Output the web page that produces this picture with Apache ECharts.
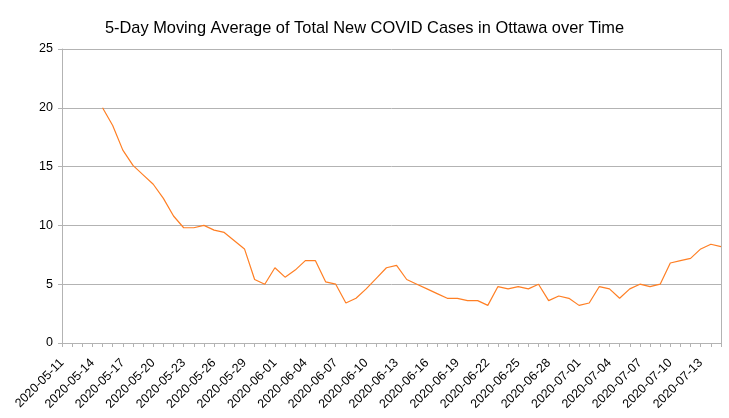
<!DOCTYPE html>
<html>
<head>
<meta charset="utf-8">
<script src="https://cdn.jsdelivr.net/npm/echarts@6/dist/echarts.min.js"></script>
<style>
html,body{margin:0;padding:0;background:#fff;}
#chart{width:729px;height:418px;}
</style>
</head>
<body>
<div id="chart"></div>
<script>
// Categories: 2020-05-11 .. 2020-07-15
const dates = [
 "2020-05-11","2020-05-12","2020-05-13","2020-05-14","2020-05-15","2020-05-16","2020-05-17","2020-05-18","2020-05-19","2020-05-20",
 "2020-05-21","2020-05-22","2020-05-23","2020-05-24","2020-05-25","2020-05-26","2020-05-27","2020-05-28","2020-05-29","2020-05-30",
 "2020-05-31","2020-06-01","2020-06-02","2020-06-03","2020-06-04","2020-06-05","2020-06-06","2020-06-07","2020-06-08","2020-06-09",
 "2020-06-10","2020-06-11","2020-06-12","2020-06-13","2020-06-14","2020-06-15","2020-06-16","2020-06-17","2020-06-18","2020-06-19",
 "2020-06-20","2020-06-21","2020-06-22","2020-06-23","2020-06-24","2020-06-25","2020-06-26","2020-06-27","2020-06-28","2020-06-29",
 "2020-06-30","2020-07-01","2020-07-02","2020-07-03","2020-07-04","2020-07-05","2020-07-06","2020-07-07","2020-07-08","2020-07-09",
 "2020-07-10","2020-07-11","2020-07-12","2020-07-13","2020-07-14","2020-07-15"
];
// 5-day moving average values (first 4 days have no value)
const movingAvg = [
 null, null, null, null, 20.0, 18.5, 16.4, 15.1, 14.3, 13.5,
 12.3, 10.8, 9.8, 9.8, 10.0, 9.6, 9.4, 8.7, 8.0, 5.4,
 5.0, 6.4, 5.6, 6.2, 7.0, 7.0, 5.2, 5.0, 3.4, 3.8,
 4.6, 5.5, 6.4, 6.6, 5.4, 5.0, 4.6, 4.2, 3.8, 3.8,
 3.6, 3.6, 3.2, 4.8, 4.6, 4.8, 4.6, 5.0, 3.6, 4.0,
 3.8, 3.2, 3.4, 4.8, 4.6, 3.8, 4.6, 5.0, 4.8, 5.0,
 6.8, 7.0, 7.2, 8.0, 8.4, 8.2
];
const titleText = "5-Day Moving Average of Total New COVID Cases in Ottawa over Time";

const chart = echarts.init(document.getElementById('chart'), null, {renderer: 'canvas'});
chart.setOption({
  animation: false,
  backgroundColor: '#fff',
  title: {
    text: titleText,
    left: 'center',
    top: 15,
    textStyle: {fontFamily: 'Liberation Sans', fontSize: 16.4, fontWeight: 'normal', color: '#000'}
  },
  grid: {left: 62, right: 8, top: 49, bottom: 75},
  xAxis: {
    type: 'category',
    data: dates,
    boundaryGap: false,
    axisLine: {show: true, lineStyle: {color: '#b3b3b3'}},
    axisTick: {show: true, interval: 0, length: 4, lineStyle: {color: '#b3b3b3'}},
    axisLabel: {
      interval: 2, rotate: 45, fontFamily: 'Liberation Sans', fontSize: 12.5, color: '#000', margin: 18
    },
    splitLine: {show: false}
  },
  yAxis: {
    type: 'value',
    min: 0, max: 25, interval: 5,
    axisLine: {show: true, lineStyle: {color: '#b3b3b3'}},
    axisTick: {show: true, length: 4, lineStyle: {color: '#b3b3b3'}},
    axisLabel: {fontFamily: 'Liberation Sans', fontSize: 12.5, color: '#000', margin: 9},
    splitLine: {show: true, lineStyle: {color: '#b3b3b3'}}
  },
  series: [{
    type: 'line',
    data: movingAvg,
    showSymbol: false,
    connectNulls: false,
    lineStyle: {color: '#ff7f24', width: 1.2},
    itemStyle: {color: '#ff7f24'}
  }],
  graphic: [{
    type: 'line',
    shape: {x1: 721.5, y1: 49, x2: 721.5, y2: 343},
    style: {stroke: '#b3b3b3', lineWidth: 1}
  }]
});
</script>
</body>
</html>
